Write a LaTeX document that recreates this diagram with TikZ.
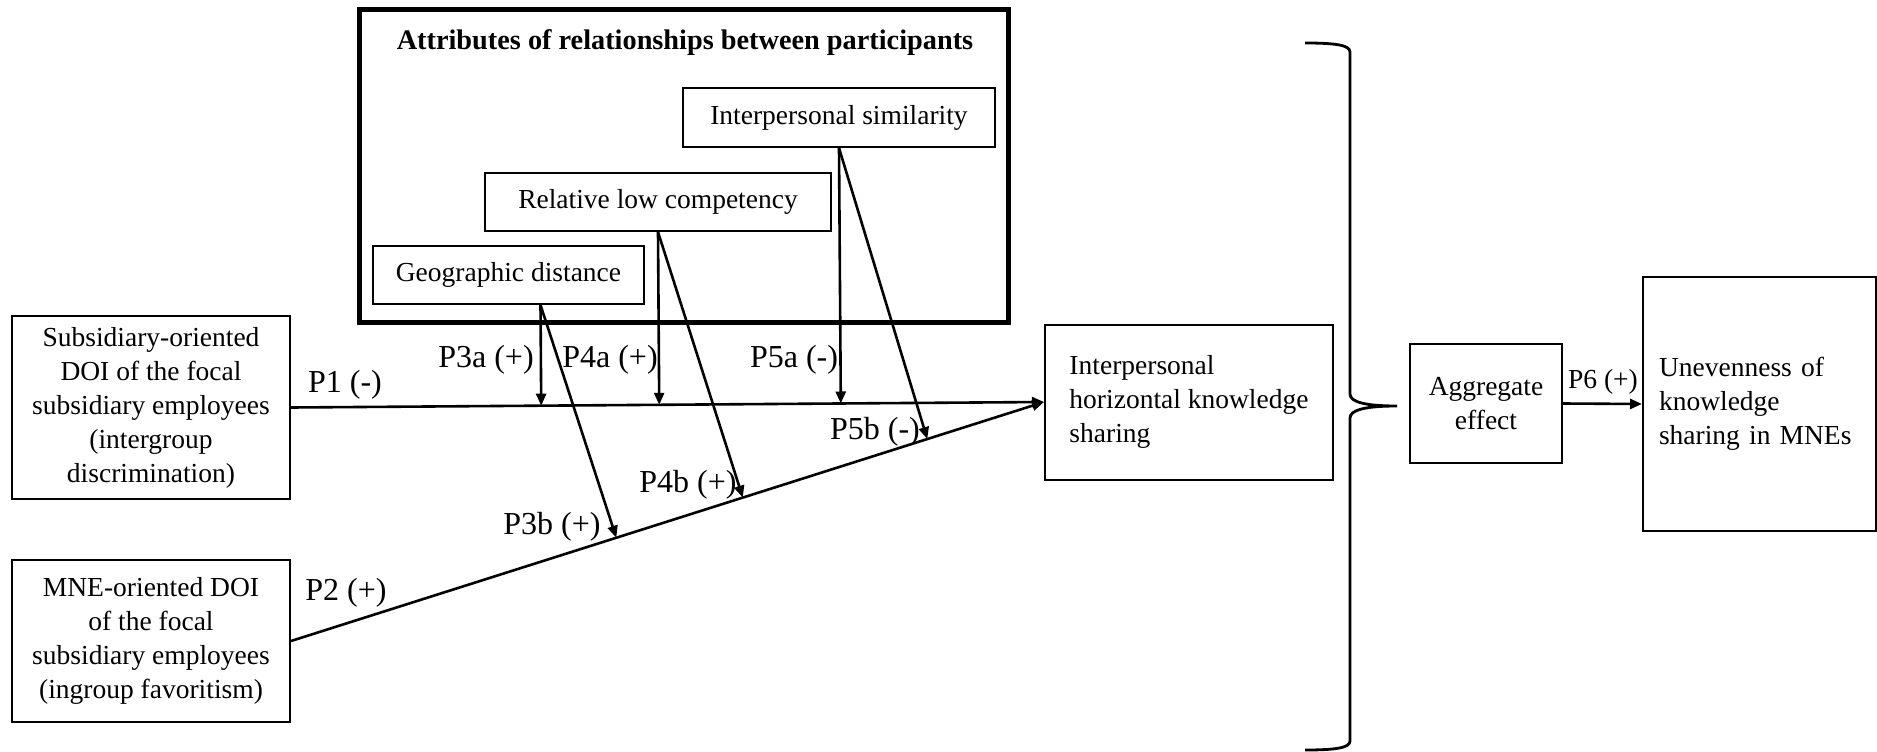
\documentclass[tikz,border=0pt]{standalone}
\usepackage{fontspec}
\setmainfont{Liberation Serif}
\usetikzlibrary{arrows.meta,calc}
\begin{document}
\begin{tikzpicture}[x=1pt,y=-1pt,
  every node/.style={font=\fontsize{27.5}{34}\selectfont, inner sep=0pt},
  box/.style={draw, line width=2pt, align=center, inner sep=0pt},
  boldbox/.style={draw, line width=5pt, inner sep=0pt},
  lbl/.style={font=\fontsize{32}{36}\selectfont},
  arr/.style={line width=2.6pt, -{Triangle[length=12pt,width=10pt]}},
  bracestyle/.style={line width=2.8pt},
]
\useasboundingbox (0,0) rectangle (1877,752);

% attributes frame
\node[boldbox, minimum width=649pt, minimum height=312pt] (attr) at (683.5,166) {};
\node[font=\bfseries\fontsize{28.3}{32}\selectfont] (title) at (685,43) {Attributes of relationships between participants};

\node[box, minimum width=312pt, minimum height=59pt] (sim) at (839,117.5) {Interpersonal similarity};
\node[box, minimum width=346pt, minimum height=58pt] (rel) at (658,202) {Relative low competency};
\node[box, minimum width=271pt, minimum height=58pt] (geo) at (508.5,275) {Geographic distance};

% left boxes
\node[box, minimum width=278pt, minimum height=183pt] (sub) at (151,407.5)
  {Subsidiary-oriented\\DOI of the focal\\subsidiary employees\\(intergroup\\discrimination)};
\node[box, minimum width=278pt, minimum height=162pt] (mne) at (151,641)
  {MNE-oriented DOI\\of the focal\\subsidiary employees\\(ingroup favoritism)};

% middle / right boxes
\node[box, align=left, minimum width=288pt, minimum height=155pt] (ihks) at (1189,402)
  {Interpersonal\\horizontal knowledge\\sharing};
\node[box, minimum width=152pt, minimum height=119pt] (agg) at (1486,403.5)
  {Aggregate\\effect};
\node[box, align=left, text width=201pt, inner xsep=16pt, minimum height=254pt] (unev) at (1759.5,404)
  {Unevenness of\\knowledge\\sharing in MNEs};

% moderator origins
\coordinate (g0) at ($(geo.south)+(32,0)$);
\coordinate (r0) at (rel.south);
\coordinate (s0) at (sim.south);

% main effects
\draw[arr] (sub.east) -- (ihks.west);
\draw[arr] (mne.east) -- (ihks.west);

% moderations on P1
\draw[arr] (g0) -- ($(sub.east)!(g0)!(ihks.west)$);
\draw[arr] (r0) -- ($(sub.east)!(r0)!(ihks.west)$);
\draw[arr] (s0) -- ($(sub.east)!(s0)!(ihks.west)$);

% moderations on P2
\draw[arr] (g0) -- ($(mne.east)!0.432!(ihks.west)$);
\draw[arr] (r0) -- ($(mne.east)!0.600!(ihks.west)$);
\draw[arr] (s0) -- ($(mne.east)!0.845!(ihks.west)$);

% aggregate to unevenness
\draw[arr] (agg.east) -- (unev.west);

% labels
\node[lbl] (lP1) at (345,385) {P1 (-)};
\node[lbl] (lP2) at (346,593) {P2 (+)};
\node[lbl] (lP3a) at (486,360) {P3a (+)};
\node[lbl] (lP4a) at (610,360) {P4a (+)};
\node[lbl] (lP5a) at (794,360) {P5a (-)};
\node[lbl] (lP5b) at (875,432) {P5b (-)};
\node[lbl] (lP4b) at (688,485) {P4b (+)};
\node[lbl] (lP3b) at (552,527) {P3b (+)};
\node (lP6) at (1603,382) {P6 (+)};

% brace
\coordinate (btip) at (1397,406);
\draw[bracestyle] (1305,43) .. controls (1335,43) and (1350,45) .. (1350,52)
  -- (1350,394) .. controls (1350,402) and (1365,406) .. (btip)
  .. controls (1365,406) and (1350,410) .. (1350,418)
  -- (1350,741) .. controls (1350,748) and (1335,750) .. (1305,750);
\end{tikzpicture}
\end{document}
